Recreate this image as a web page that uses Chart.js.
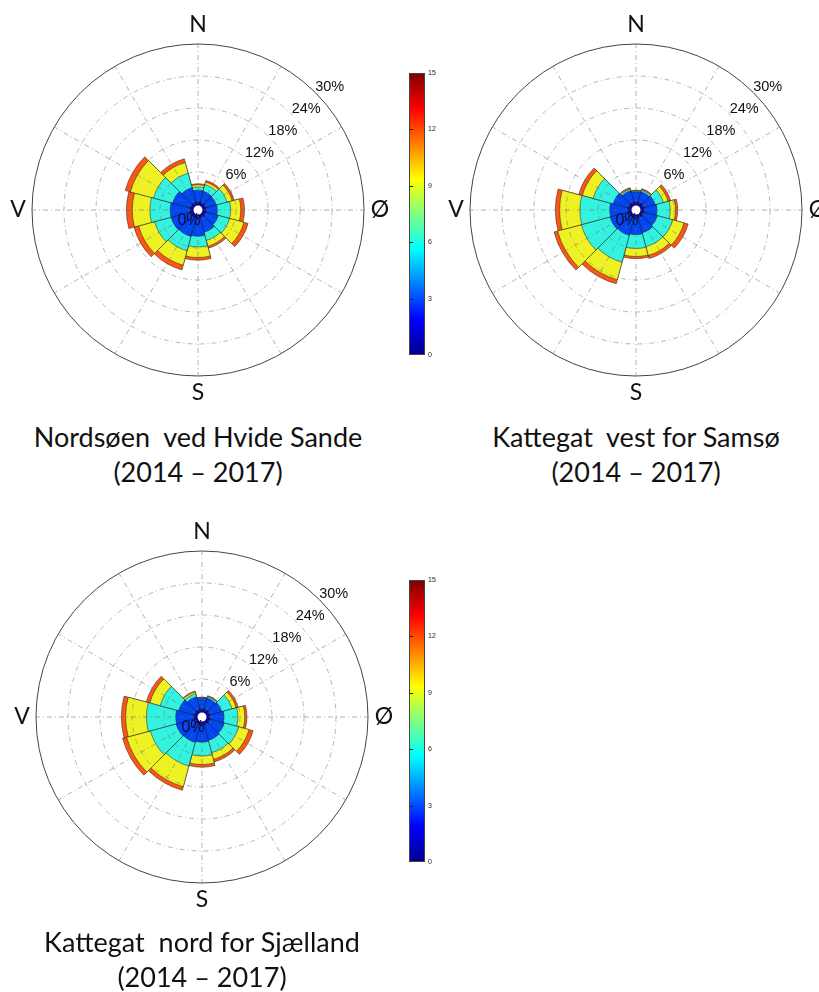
<!DOCTYPE html>
<html>
<head>
<meta charset="utf-8">
<script src="https://cdn.jsdelivr.net/npm/chart.js@4.4.0/dist/chart.umd.min.js"></script>
<style>
  html, body { margin: 0; padding: 0; background: #fff; }
  body { width: 819px; height: 992px; overflow: hidden; position: relative; }
  canvas { position: absolute; }
  .title { position: absolute; width: 420px; text-align: center; font-family: Lato, sans-serif;
           font-size: 27px; line-height: 27px; color: #111; white-space: pre; }
  .cbar { position: absolute; width: 16px; box-sizing: border-box; border: 1px solid #444;
          background: linear-gradient(to top, #00008f 0%, #0000ff 12.5%, #00ffff 37.5%, #ffff00 62.5%, #ff0000 87.5%, #800000 100%); }
  .cbtick { position: absolute; width: 3px; height: 1px; background: #222; }
  .cblab { position: absolute; font-family: "Liberation Sans", Arial, sans-serif; font-size: 7px;
           line-height: 8px; color: #222; }
</style>
</head>
<body>
<canvas id="rose1" width="420" height="420" style="left:-12px;top:0px"></canvas>
<canvas id="rose2" width="420" height="420" style="left:426px;top:0px"></canvas>
<canvas id="rose3" width="420" height="420" style="left:-8px;top:507px"></canvas>
<script>
// wind direction sectors (30° wide, centred on these bearings)
const sectors = ['N', '30°', '60°', 'Ø', '120°', '150°', 'S', '210°', '240°', 'V', '300°', '330°'];
const binColors = ['#0000b0', '#0046f5', '#33f2e0', '#eef224', '#ff5512'];

// frequency (%) per sector and wind speed class, slowest class first
const hvideSande1 = [0.4, 0.4, 0.4, 0.4, 0.4, 0.4, 0.4, 0.4, 0.4, 0.4, 0.4, 0.4];
const hvideSande2 = [2.2, 2.1, 2.0, 2.1, 2.4, 2.8, 3.4, 3.6, 3.7, 3.7, 3.4, 2.8];
const hvideSande3 = [0.6, 1.3, 2.1, 2.5, 2.2, 1.6, 2.0, 2.8, 3.2, 3.8, 3.7, 2.8];
const hvideSande4 = [0.4, 0.5, 1.0, 1.9, 2.8, 1.1, 2.0, 2.8, 3.1, 3.3, 4.5, 2.1];
const hvideSande5 = [0.2, 0.3, 0.4, 0.7, 0.8, 0.4, 0.5, 0.9, 0.9, 1.1, 1.0, 0.7];

const samsoe1 = [0.4, 0.4, 0.4, 0.4, 0.4, 0.4, 0.4, 0.4, 0.4, 0.4, 0.4, 0.4];
const samsoe2 = [1.9, 2.0, 2.2, 2.4, 2.6, 2.9, 3.1, 3.4, 3.5, 3.4, 2.9, 2.2];
const samsoe3 = [0.1, 0.3, 1.6, 2.5, 3.0, 2.7, 2.6, 5.2, 5.6, 5.6, 3.9, 0.3];
const samsoe4 = [0.1, 0.15, 0.9, 1.0, 2.2, 1.7, 1.5, 3.4, 4.6, 3.8, 2.1, 0.15];
const samsoe5 = [0.1, 0.15, 0.5, 0.4, 0.8, 0.6, 0.4, 0.8, 0.7, 0.8, 0.7, 0.15];

const sjaelland1 = [0.4, 0.4, 0.4, 0.4, 0.4, 0.4, 0.4, 0.4, 0.4, 0.4, 0.4, 0.4];
const sjaelland2 = [2.0, 2.1, 2.3, 2.6, 2.8, 3.0, 3.2, 3.4, 3.5, 3.4, 3.0, 2.4];
const sjaelland3 = [0.1, 0.3, 2.0, 2.6, 2.8, 2.4, 2.6, 4.6, 5.0, 5.5, 3.6, 0.6];
const sjaelland4 = [0.05, 0.1, 0.8, 1.3, 2.0, 1.3, 1.6, 4.0, 4.6, 3.9, 2.0, 0.35];
const sjaelland5 = [0.05, 0.1, 0.4, 0.4, 0.8, 0.5, 0.5, 0.7, 0.8, 0.8, 0.7, 0.15];

const ringTicks = [6, 12, 18, 24, 30];
const ringLabels = ['6%', '12%', '18%', '24%', '30%'];
const compass = ['N', 'Ø', 'S', 'V'];
const colorbarTicks = [0, 3, 6, 9, 12, 15];

const titles = [
  ['Nordsøen  ved Hvide Sande', '(2014 – 2017)'],
  ['Kattegat  vest for Samsø', '(2014 – 2017)'],
  ['Kattegat  nord for Sjælland', '(2014 – 2017)']
];

const rMax = 30;
const rMin = -1.125;   // leaves the small white hole in the middle

// grid spokes, hole, percent and compass labels
const roseDecor = {
  id: 'roseDecor',
  afterDraw(chart) {
    const s = chart.scales.r;
    const ctx = chart.ctx;
    const cx = s.xCenter, cy = s.yCenter;
    const r0 = s.getDistanceFromCenterForValue(0);
    const R = s.getDistanceFromCenterForValue(rMax);
    ctx.save();
    ctx.strokeStyle = 'rgba(110,110,110,0.75)';
    ctx.lineWidth = 0.7;
    ctx.setLineDash([5, 3, 1, 3]);
    for (let a = 0; a < 360; a += 30) {
      const t = (a - 90) * Math.PI / 180;
      ctx.beginPath();
      ctx.moveTo(cx + r0 * Math.cos(t), cy + r0 * Math.sin(t));
      ctx.lineTo(cx + R * Math.cos(t), cy + R * Math.sin(t));
      ctx.stroke();
    }
    ctx.setLineDash([]);

    ctx.fillStyle = '#fff';
    ctx.beginPath();
    ctx.arc(cx, cy, r0 - 1.5, 0, 2 * Math.PI);
    ctx.fill();

    ctx.fillStyle = '#111';
    ctx.textAlign = 'center';
    ctx.textBaseline = 'middle';
    ctx.font = '14.5px "Liberation Sans", Arial, sans-serif';
    const lt = (47 - 90) * Math.PI / 180;
    ringTicks.forEach((v, i) => {
      const d = s.getDistanceFromCenterForValue(v) + 14;
      ctx.fillText(ringLabels[i], cx + d * Math.cos(lt), cy + d * Math.sin(lt));
    });
    ctx.font = '16px "Liberation Sans", Arial, sans-serif';
    ctx.fillStyle = '#0a0a40';
    ctx.fillText('0%', cx - 9, cy + 11);

    ctx.fillStyle = '#111';
    ctx.font = '23px Lato, sans-serif';
    ctx.fillText(compass[0], cx, cy - 185);
    ctx.fillText(compass[1], cx + 182, cy);
    ctx.fillText(compass[2], cx, cy + 183);
    ctx.fillText(compass[3], cx - 180, cy);
    ctx.restore();
  }
};

function stackLayers(bins) {
  let run = sectors.map(() => 0);
  return bins.map((b, k) => {
    run = run.map((v, i) => v + b[i]);
    return {
      data: run.slice(),
      backgroundColor: binColors[k],
      borderColor: 'rgba(30,30,30,0.85)',
      borderWidth: 0.6
    };
  });
}

function makeRose(id, bins) {
  return new Chart(document.getElementById(id), {
    type: 'polarArea',
    data: { labels: sectors, datasets: stackLayers(bins) },
    options: {
      responsive: false,
      animation: false,
      events: [],
      layout: { padding: 44 },
      plugins: { legend: { display: false }, tooltip: { enabled: false } },
      scales: {
        r: {
          min: rMin,
          max: rMax,
          startAngle: -15,
          ticks: { display: false, stepSize: 6 },
          pointLabels: { display: false },
          angleLines: { display: false },
          grid: {
            circular: true,
            z: 1,
            color: c => c.tick.value >= rMax ? '#444' : (c.tick.value > 0 ? 'rgba(120,120,120,0.75)' : 'rgba(0,0,0,0)'),
            lineWidth: c => c.tick.value >= rMax ? 1 : 0.7
          },
          border: { dash: c => c.tick.value >= rMax ? [] : [5, 3, 1, 3] }
        }
      }
    },
    plugins: [roseDecor]
  });
}

makeRose('rose1', [hvideSande1, hvideSande2, hvideSande3, hvideSande4, hvideSande5]);
makeRose('rose2', [samsoe1, samsoe2, samsoe3, samsoe4, samsoe5]);
makeRose('rose3', [sjaelland1, sjaelland2, sjaelland3, sjaelland4, sjaelland5]);

// titles
const titlePos = [[198, 423], [636, 423], [202, 928]];
titles.forEach((t, i) => {
  t.forEach((line, j) => {
    const d = document.createElement('div');
    d.className = 'title';
    d.textContent = line;
    d.style.left = (titlePos[i][0] - 210) + 'px';
    d.style.top = (titlePos[i][1] + j * 35) + 'px';
    document.body.appendChild(d);
  });
});

// colour bars
[[409, 73], [409, 580]].forEach(([x, y]) => {
  const h = 282;
  const bar = document.createElement('div');
  bar.className = 'cbar';
  bar.style.left = x + 'px';
  bar.style.top = y + 'px';
  bar.style.height = h + 'px';
  document.body.appendChild(bar);
  colorbarTicks.forEach(v => {
    const yy = y + (15 - v) / 15 * h;
    if (v > 0 && v < 15) {
      const tk = document.createElement('div');
      tk.className = 'cbtick';
      tk.style.left = (x + 1) + 'px';
      tk.style.top = Math.round(yy) + 'px';
      document.body.appendChild(tk);
    }
    const lab = document.createElement('div');
    lab.className = 'cblab';
    lab.textContent = v;
    lab.style.left = (x + 19) + 'px';
    lab.style.top = (yy - 4) + 'px';
    document.body.appendChild(lab);
  });
});
</script>
</body>
</html>
